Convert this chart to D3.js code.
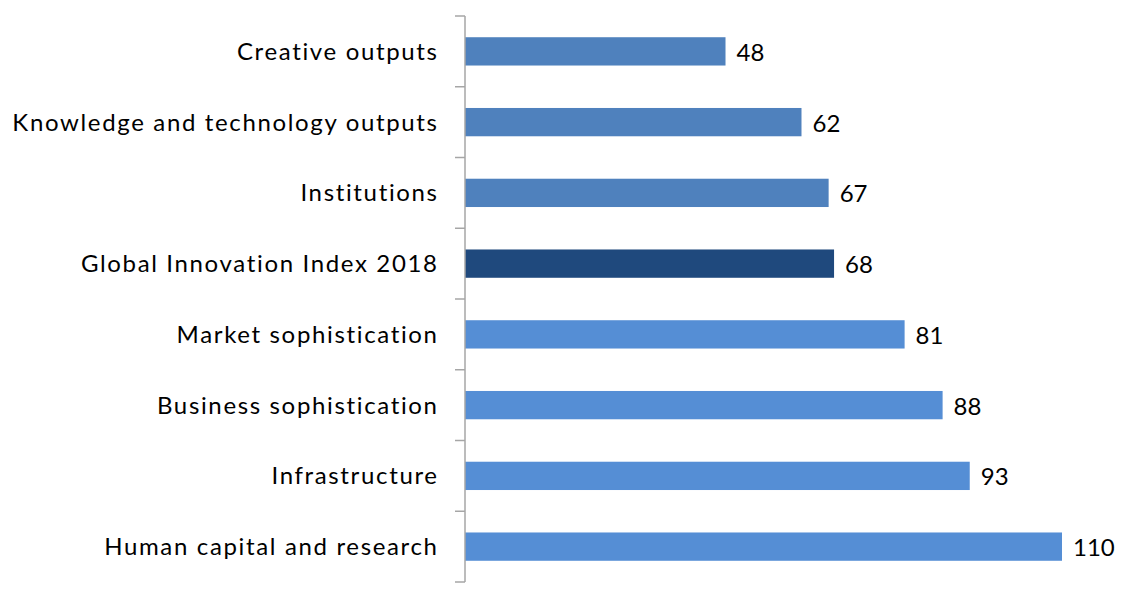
<!DOCTYPE html>
<html><head><meta charset="utf-8">
<script src="https://cdn.jsdelivr.net/npm/d3@7"></script>
<style>body{margin:0;background:#fff;}svg{display:block;}</style>
</head><body>
<svg id="c" width="1121" height="590"></svg>
<script>
const categories = ["Creative outputs","Knowledge and technology outputs","Institutions","Global Innovation Index 2018","Market sophistication","Business sophistication","Infrastructure","Human capital and research"];
const values = [48,62,67,68,81,88,93,110];
const colors = ["#4F81BD","#4F81BD","#4F81BD","#1F497D","#558ED5","#558ED5","#558ED5","#558ED5"];

const svg = d3.select("#c");
const axLeft = 465, axTop = 16, axBottom = 582;
const x = d3.scaleLinear().domain([0,110]).range([axLeft,1062]);
const y = d3.scaleBand().domain(categories).range([axTop,axBottom]).paddingInner(0.6).paddingOuter(0.3);
const font = "Lato, 'Open Sans', sans-serif";

svg.selectAll("rect.bar").data(values).join("rect").attr("class","bar")
  .attr("x",x(0)).attr("y",(d,i)=>y(categories[i]))
  .attr("width",d=>x(d)-x(0)).attr("height",y.bandwidth())
  .attr("fill",(d,i)=>colors[i]);

const step = (axBottom-axTop)/categories.length;
const g = svg.append("g");
g.append("line").attr("x1",axLeft).attr("x2",axLeft).attr("y1",axTop).attr("y2",axBottom).attr("stroke","#A6A6A6").attr("stroke-width",1.5);
d3.range(categories.length+1).forEach(i=>{
  g.append("line").attr("x1",axLeft-10).attr("x2",axLeft).attr("y1",axTop+i*step).attr("y2",axTop+i*step).attr("stroke","#A6A6A6").attr("stroke-width",1.5);
});

svg.selectAll("text.cat").data(categories).join("text").attr("class","cat")
  .attr("x",437 + 1.65).attr("y",d=>y(d)+y.bandwidth()/2).attr("dy","0.35em")
  .attr("text-anchor","end").attr("font-family",font).attr("font-size",24)
  .attr("letter-spacing","1.65px").attr("fill","#000")
  .text(d=>d);

svg.selectAll("text.val").data(values).join("text").attr("class","val")
  .attr("x",d=>x(d)+11).attr("y",(d,i)=>y(categories[i])+y.bandwidth()/2).attr("dy","0.4em")
  .attr("font-family",font).attr("font-size",24).attr("fill","#000")
  .text(d=>d);
</script>
</body></html>
